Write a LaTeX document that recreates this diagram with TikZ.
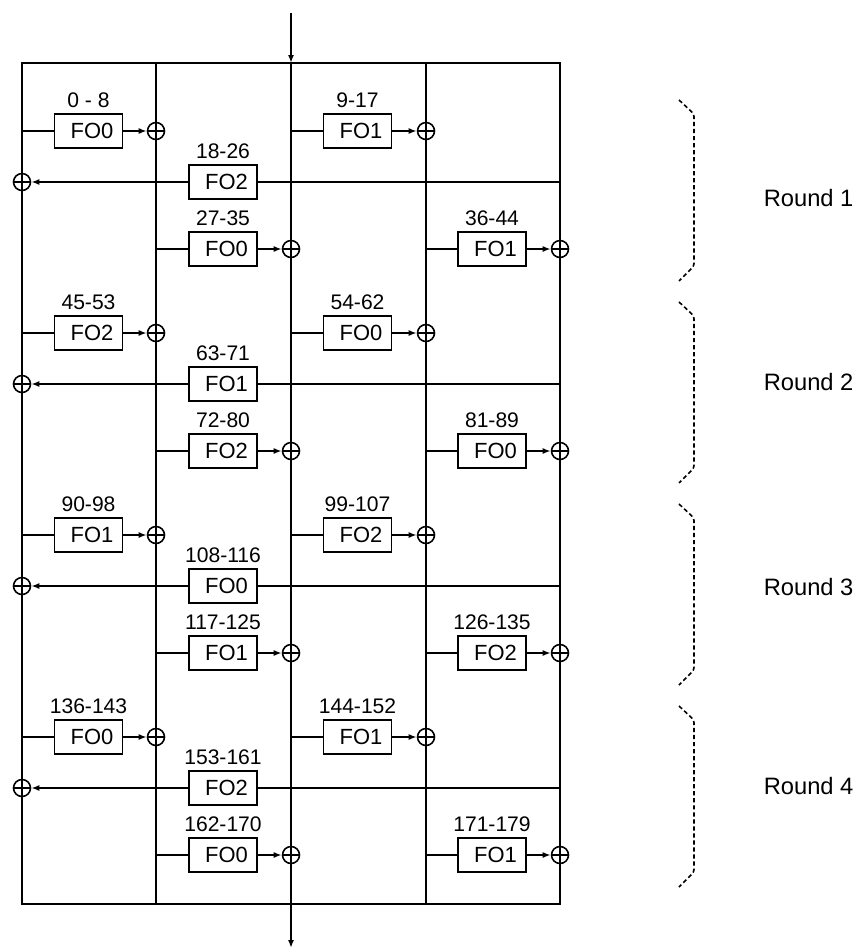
\documentclass[tikz,border=0pt]{standalone}
\usepackage{fontspec}
\setmainfont{Liberation Sans}
\usetikzlibrary{arrows.meta}

\begin{document}
\begin{tikzpicture}[
  x=0.02cm, y=-0.02cm, line width=0.9pt,
  fo/.style={rectangle, draw, minimum width=1.36cm, minimum height=0.68cm, inner sep=0pt, font=\fontsize{12.5}{14}\selectfont},
  sub/.style={font=\fontsize{12}{14}\selectfont, inner sep=2.6pt},
  xor/.style={circle, draw, fill=white, minimum size=0.34cm, inner sep=0pt,
    path picture={\draw (path picture bounding box.north) -- (path picture bounding box.south)
      (path picture bounding box.west) -- (path picture bounding box.east);}},
  feed/.style={-{Latex[length=1.6mm,width=1.2mm]}},
  brace/.style={dash pattern=on 2.4pt off 1.6pt, rounded corners=1.5pt},
  rnd/.style={font=\fontsize{13.5}{16}\selectfont, inner sep=0pt, anchor=west},
]
  \useasboundingbox (0,0) rectangle (860,950);

  % frame and data lines
  \coordinate (in) at (291,13);
  \coordinate (top) at (291,63);
  \coordinate (bot) at (291,904);
  \coordinate (out) at (291,948);
  \draw (22,63) rectangle (560,904);
  \draw (156,63) -- (156,904);
  \draw (top) -- (bot);
  \draw (426,63) -- (426,904);
  \draw[feed] (in) -- (top);
  \draw[feed] (bot) -- (out);

  \foreach \r/\ry/\la/\fa/\lb/\fb/\lc/\fc/\ld/\fd/\le/\fe in {
      1/198/0 - 8/FO0/9-17/FO1/18-26/FO2/27-35/FO0/36-44/FO1,
      2/382/45-53/FO2/54-62/FO0/63-71/FO1/72-80/FO2/81-89/FO0,
      3/587/90-98/FO1/99-107/FO2/108-116/FO0/117-125/FO1/126-135/FO2,
      4/786/136-143/FO0/144-152/FO1/153-161/FO2/162-170/FO0/171-179/FO1} {
    \pgfmathsetmacro\ya{131+202*(\r-1)}
    \pgfmathsetmacro\yb{182+202*(\r-1)}
    \pgfmathsetmacro\yc{249+202*(\r-1)}
    \pgfmathsetmacro\yt{100+202*(\r-1)}
    \pgfmathsetmacro\ys{281+202*(\r-1)}

    \node[fo, label={[sub]above:\la}] (fa\r) at (88.5,\ya) {\hspace*{4pt}\fa};
    \node[fo, label={[sub]above:\lb}] (fb\r) at (357.5,\ya) {\hspace*{4pt}\fb};
    \node[fo, label={[sub]above:\lc}] (fc\r) at (223,\yb) {\hspace*{4pt}\fc};
    \node[fo, label={[sub]above:\ld}] (fd\r) at (223,\yc) {\hspace*{4pt}\fd};
    \node[fo, label={[sub]above:\le}] (fe\r) at (492,\yc) {\hspace*{4pt}\fe};

    \node[xor] (xa\r) at (156,\ya) {};
    \node[xor] (xb\r) at (426,\ya) {};
    \node[xor] (xc\r) at (22,\yb) {};
    \node[xor] (xd\r) at (291,\yc) {};
    \node[xor] (xe\r) at (560,\yc) {};

    \draw (22,\ya) -- (fa\r.west);
    \draw[feed] (fa\r.east) -- (xa\r);
    \draw (291,\ya) -- (fb\r.west);
    \draw[feed] (fb\r.east) -- (xb\r);
    \draw (560,\yb) -- (fc\r.east);
    \draw[feed] (fc\r.west) -- (xc\r);
    \draw (156,\yc) -- (fd\r.west);
    \draw[feed] (fd\r.east) -- (xd\r);
    \draw (426,\yc) -- (fe\r.west);
    \draw[feed] (fe\r.east) -- (xe\r);

    \draw[brace] (679,\yt) -- (694,\yt+14) -- (694,\ys-15) -- (679,\ys);
    \node[rnd] (round\r) at (763,\ry) {Round \r};
  }
\end{tikzpicture}
\end{document}
